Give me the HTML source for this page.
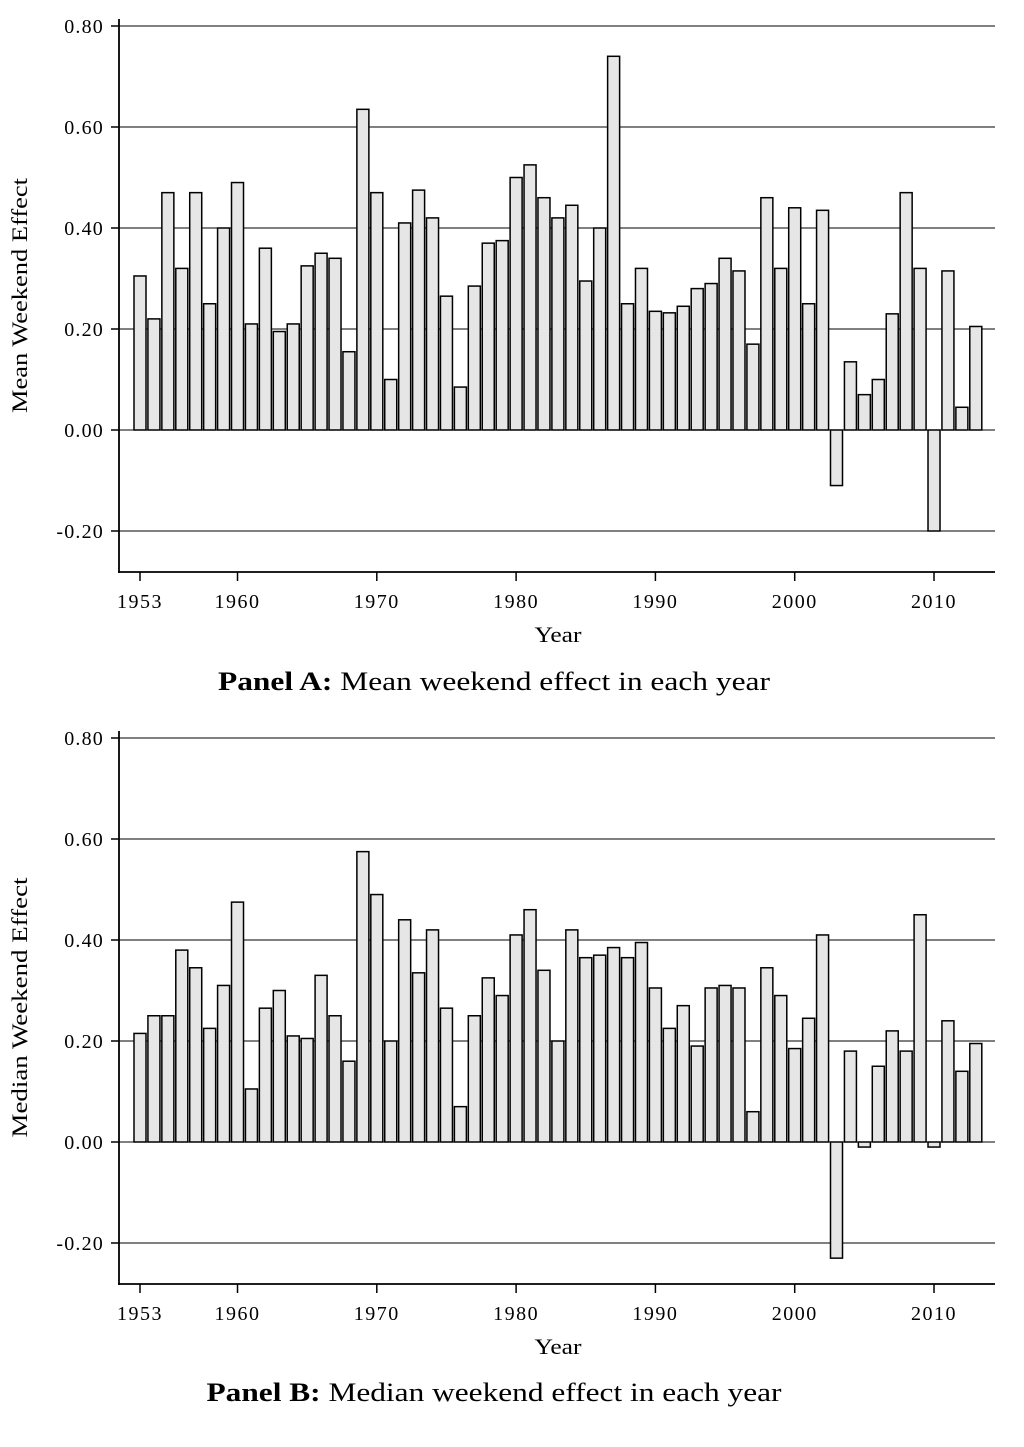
<!DOCTYPE html>
<html><head><meta charset="utf-8"><style>
body{margin:0;background:#fff;}
svg text{font-family:"Liberation Serif",serif;fill:#000;}
</style></head><body>
<svg id="chart" width="1024" height="1442" viewBox="0 0 1024 1442" xmlns="http://www.w3.org/2000/svg"></svg>
<script>
const years = [];
for (let y = 1953; y <= 2013; y++) years.push(y);
const meanValues = [0.305,0.22,0.47,0.32,0.47,0.25,0.40,0.49,0.21,0.36,0.195,0.21,0.325,0.35,0.34,0.155,0.635,0.47,0.10,0.41,0.475,0.42,0.265,0.085,0.285,0.37,0.375,0.50,0.525,0.46,0.42,0.445,0.295,0.40,0.74,0.25,0.32,0.235,0.232,0.245,0.28,0.29,0.34,0.315,0.17,0.46,0.32,0.44,0.25,0.435,-0.11,0.135,0.07,0.10,0.23,0.47,0.32,-0.20,0.315,0.045,0.205];
const medianValues = [0.215,0.25,0.25,0.38,0.345,0.225,0.31,0.475,0.105,0.265,0.30,0.21,0.205,0.33,0.25,0.16,0.575,0.49,0.20,0.44,0.335,0.42,0.265,0.07,0.25,0.325,0.29,0.41,0.46,0.34,0.20,0.42,0.365,0.37,0.385,0.365,0.395,0.305,0.225,0.27,0.19,0.305,0.31,0.305,0.06,0.345,0.29,0.185,0.245,0.41,-0.23,0.18,-0.01,0.15,0.22,0.18,0.45,-0.01,0.24,0.14,0.195];
const yTicks = [-0.20,0.00,0.20,0.40,0.60,0.80];
const yTickLabels = ["-0.20","0.00","0.20","0.40","0.60","0.80"];
const xTicks = [1953,1960,1970,1980,1990,2000,2010];

const NS = "http://www.w3.org/2000/svg";
const svg = document.getElementById('chart');
function mk(tag, attrs, parent){const e=document.createElementNS(NS,tag);for(const k in attrs)e.setAttribute(k,attrs[k]);parent.appendChild(e);return e;}

function drawPanel(values, zeroY, yTitle, titleBold, titleRest, titleY, key, yTitleLen, titleLen){
  const g = mk('g',{},svg);
  
  
  const pxPer = 101/0.2;
  const yS = v => zeroY - v*pxPer;
  const xS = yr => 140 + (yr-1953)*13.93;
  const top = yS(0.8)-7, bottom = yS(-0.2)+41;
  yTicks.forEach((t,i)=>{
    const grid = mk('line',{x1:119,x2:995,y1:yS(t),y2:yS(t),stroke:'#000','stroke-width':0.9},g);
    
    
    mk('line',{x1:111,x2:119,y1:yS(t),y2:yS(t),stroke:'#000','stroke-width':1.5},g);
    const tl = mk('text',{x:104,y:yS(t)+7,'text-anchor':'end','font-size':20,'letter-spacing':1.2},g);
    tl.textContent = yTickLabels[i];
    
    
  });
  values.forEach((v,i)=>{
    const x = xS(years[i]);
    const r = mk('rect',{x:x-6,y:Math.min(yS(v),yS(0)),width:12,height:Math.abs(yS(v)-yS(0)),fill:'#e6e6e6',stroke:'#000','stroke-width':1.5},g);
    
    
  });
  const ya = mk('line',{x1:119,x2:119,y1:top,y2:bottom+1,stroke:'#000','stroke-width':1.8},g);
  
  
  const xa = mk('line',{x1:118,x2:995,y1:bottom,y2:bottom,stroke:'#000','stroke-width':1.8},g);
  
  
  xTicks.forEach(t=>{
    mk('line',{x1:xS(t),x2:xS(t),y1:bottom,y2:bottom+9,stroke:'#000','stroke-width':1.5},g);
    const tl = mk('text',{x:xS(t),y:bottom+36,'text-anchor':'middle','font-size':20,'letter-spacing':1.5},g);
    tl.textContent = t;
    
    
  });
  const xt = mk('text',{x:558,y:bottom+70,'text-anchor':'middle','font-size':22,textLength:47,lengthAdjust:'spacingAndGlyphs'},g);
  xt.textContent='Year';
  
  
  const midY = (top+bottom)/2;
  const yt = mk('text',{x:0,y:0,'text-anchor':'middle','font-size':22,textLength:yTitleLen,lengthAdjust:'spacingAndGlyphs',transform:`translate(27,${midY}) rotate(-90)`},g);
  yt.textContent=yTitle;
  
  
  const pt = mk('text',{x:494,y:titleY,'text-anchor':'middle','font-size':26,textLength:titleLen,lengthAdjust:'spacingAndGlyphs'},g);
  
  
  const b = mk('tspan',{'font-weight':'bold'},pt); b.textContent=titleBold;
  const r2 = mk('tspan',{},pt); r2.textContent=titleRest;
}
drawPanel(meanValues, 430, 'Mean Weekend Effect', 'Panel A:', ' Mean weekend effect in each year', 690, 'mean', 235, 552);
drawPanel(medianValues, 1142, 'Median Weekend Effect', 'Panel B:', ' Median weekend effect in each year', 1401, 'median', 260, 575);
</script>
</body></html>
